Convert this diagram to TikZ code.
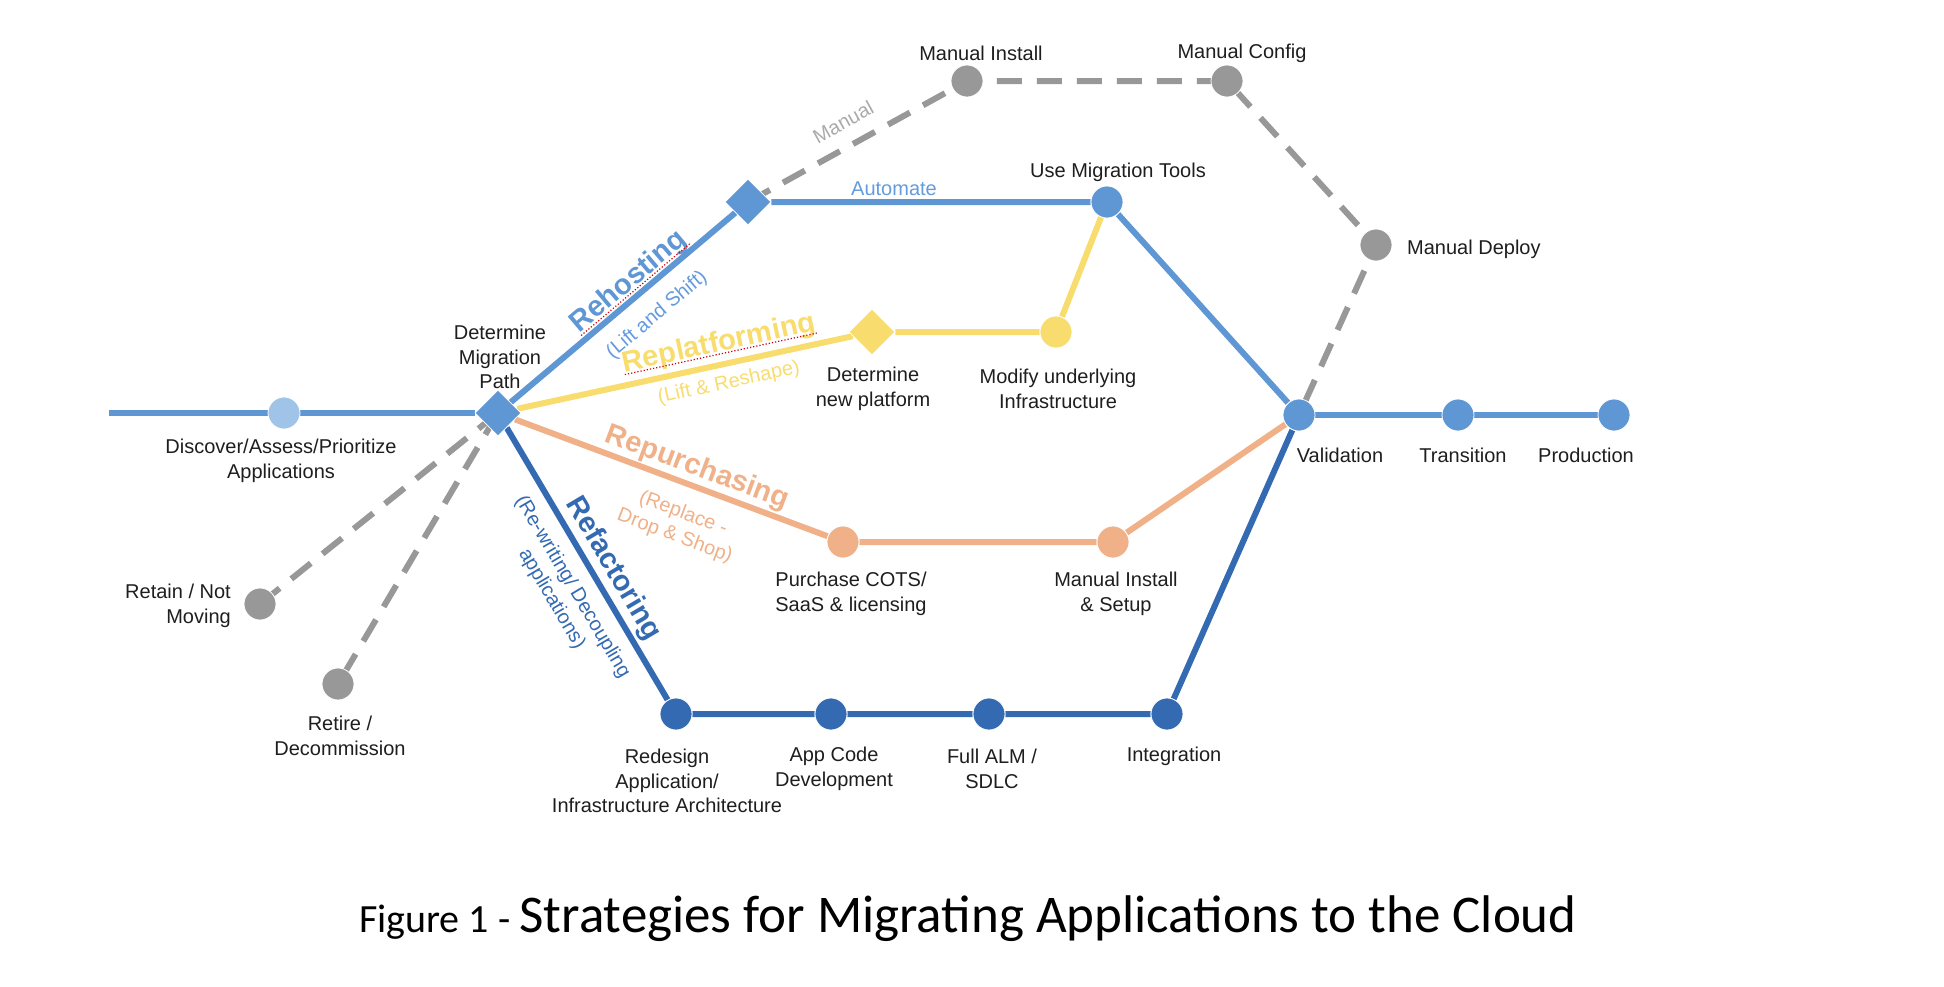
\documentclass[tikz,border=0pt]{standalone}
\usepackage{fontspec}
\setmainfont{Liberation Sans}
\newfontfamily\calibri{Carlito}
\usetikzlibrary{shapes.geometric,calc,backgrounds}
\definecolor{cblue}{RGB}{95,150,212}
\definecolor{clight}{RGB}{160,196,232}
\definecolor{cyellow}{RGB}{248,220,110}
\definecolor{corange}{RGB}{240,176,136}
\definecolor{cdark}{RGB}{52,106,178}
\definecolor{cgray}{RGB}{152,152,152}
\definecolor{ctext}{RGB}{30,30,30}
\definecolor{cbluetxt}{RGB}{100,155,220}
\definecolor{cgraytxt}{RGB}{170,170,170}
\begin{document}
\begin{tikzpicture}[x=1pt,y=-1pt,
 stop/.style={circle,minimum size=32pt,inner sep=0pt,draw=white,line width=0.8pt},
 junction/.style={diamond,minimum width=46pt,minimum height=46pt,inner sep=0pt,draw=white,line width=0.8pt},
 lbl/.style={font=\fontsize{20}{24.5}\selectfont,text=ctext,align=center,inner sep=0pt},
 track/.style={line width=6pt},
 gtrack/.style={line width=6pt,cgray,dash pattern=on 25pt off 15pt},
 boldlbl/.style={font=\fontsize{29}{32}\selectfont\bfseries,inner sep=0pt},
 sublbl/.style={font=\fontsize{20}{24}\selectfont,inner sep=0pt,align=center},
 squiggle/.style={red!80!black,line width=1.2pt,dash pattern=on 1.2pt off 2pt},
]
\useasboundingbox (0,0) rectangle (1944,986);

% ---- stations ----
\coordinate (start) at (109,413);
\node[stop,fill=clight] (discover) at (284,413) {};
\node[junction,fill=cblue] (determine) at (498,413) {};
\node[junction,fill=cblue] (rehost) at (748,202) {};
\node[stop,fill=cgray] (minstall) at (967,81) {};
\node[stop,fill=cgray] (mconfig) at (1227,81) {};
\node[stop,fill=cgray] (mdeploy) at (1376,245) {};
\node[stop,fill=cblue] (tools) at (1107,202) {};
\node[junction,fill=cyellow] (replat) at (872,332) {};
\node[stop,fill=cyellow] (modify) at (1056,332) {};
\node[stop,fill=cblue] (valid) at (1299,415) {};
\node[stop,fill=cblue] (trans) at (1458,415) {};
\node[stop,fill=cblue] (prod) at (1614,415) {};
\node[stop,fill=corange] (purchase) at (843,542) {};
\node[stop,fill=corange] (setup) at (1113,542) {};
\node[stop,fill=cdark] (redesign) at (676,714) {};
\node[stop,fill=cdark] (appcode) at (831,714) {};
\node[stop,fill=cdark] (alm) at (989,714) {};
\node[stop,fill=cdark] (integ) at (1167,714) {};
\node[stop,fill=cgray] (retain) at (260,604) {};
\node[stop,fill=cgray] (retire) at (338,684) {};

% ---- tracks ----
\begin{scope}[on background layer]
\draw[track,cblue] (start) -- (discover) -- (determine);
\draw[track,cblue] (valid) -- (trans) -- (prod);
\draw[track,cblue] (determine) -- (rehost) -- (tools) -- (valid);
\draw[gtrack] (rehost.center) -- (minstall.center) -- (mconfig.center) -- (mdeploy.center) -- (valid.center);
\draw[track,cyellow] (determine) -- (replat) -- (modify) -- (tools);
\draw[track,corange] (determine) -- (purchase) -- (setup) -- (valid);
\draw[track,cdark] (determine) -- (redesign) -- (appcode) -- (alm) -- (integ) -- (valid);
\draw[gtrack] (determine.center) -- (retain.center);
\draw[gtrack] (determine.center) -- (retire.center);
\end{scope}

% ---- station labels ----
\node[lbl] (l-minstall) at (981,53) {Manual Install};
\node[lbl] (l-mconfig) at (1242,53) {Manual Config};
\node[lbl,anchor=west] (l-mdeploy) at (1407,249) {Manual Deploy};
\node[lbl] (l-tools) at (1118,172) {Use Migration Tools};
\node[lbl] (l-determine) at (500,357) {Determine\\Migration\\Path};
\node[lbl] (l-replat) at (873,389) {Determine\\new platform};
\node[lbl] (l-modify) at (1058,389) {Modify underlying\\Infrastructure};
\node[lbl] (l-discover) at (281,461) {Discover/Assess/Prioritize\\Applications};
\node[lbl] (l-valid) at (1340,455) {Validation};
\node[lbl] (l-trans) at (1463,455) {Transition};
\node[lbl] (l-prod) at (1586,455) {Production};
\node[lbl] (l-purchase) at (851,594) {Purchase COTS/\\SaaS \& licensing};
\node[lbl] (l-setup) at (1116,594) {Manual Install\\\& Setup};
\node[lbl,align=right,anchor=east] (l-retain) at (231,606) {Retain / Not\\Moving};
\node[lbl] (l-retire) at (340,736) {Retire /\\Decommission};
\node[lbl] (l-redesign) at (667,781) {Redesign\\Application/\\Infrastructure Architecture};
\node[lbl] (l-appcode) at (834,769) {App Code\\Development};
\node[lbl] (l-alm) at (992,769) {Full ALM /\\SDLC};
\node[lbl] (l-integ) at (1174,756) {Integration};

% ---- route labels ----
\node[boldlbl,text=cblue,rotate=40.2] (t-rehost) at (629,282) {Rehosting};
\draw[squiggle] ($(t-rehost.base west)!0.4!(t-rehost.south west)$) -- ($(t-rehost.base east)!0.4!(t-rehost.south east)$);
\node[sublbl,text=cbluetxt,rotate=40.2] (s-rehost) at (657,315) {(Lift and Shift)};
\node[boldlbl,text=cyellow,rotate=12.2] (t-replat) at (719,344) {Replatforming};
\draw[squiggle] ($(t-replat.base west)!0.4!(t-replat.south west)$) -- ($(t-replat.base east)!0.4!(t-replat.south east)$);
\node[sublbl,text=cyellow,rotate=12.2] (s-replat) at (729,383) {(Lift \& Reshape)};
\node[boldlbl,text=corange,rotate=-20.5] (t-repur) at (697,468) {Repurchasing};
\node[sublbl,text=corange,rotate=-20.5] (s-repur) at (679,525) {(Replace -\\Drop \& Shop)};
\node[boldlbl,text=cdark,rotate=-59.4] (t-refac) at (613,569) {Refactoring};
\node[sublbl,text=cdark,rotate=-59.4] (s-refac) at (562,593) {(Re-writing/ Decoupling\\applications)};
\node[sublbl,text=cbluetxt] (s-auto) at (894,189) {Automate};
\node[sublbl,text=cgraytxt,rotate=28.9] (s-manual) at (843,122) {Manual};

% ---- title ----
\node[anchor=base,inner sep=0pt] (title) at (968,932) {\calibri\fontsize{40}{48}\selectfont Figure 1 - \fontsize{53}{60}\selectfont Strategies for Migrating Applications to the Cloud};
\end{tikzpicture}
\end{document}
